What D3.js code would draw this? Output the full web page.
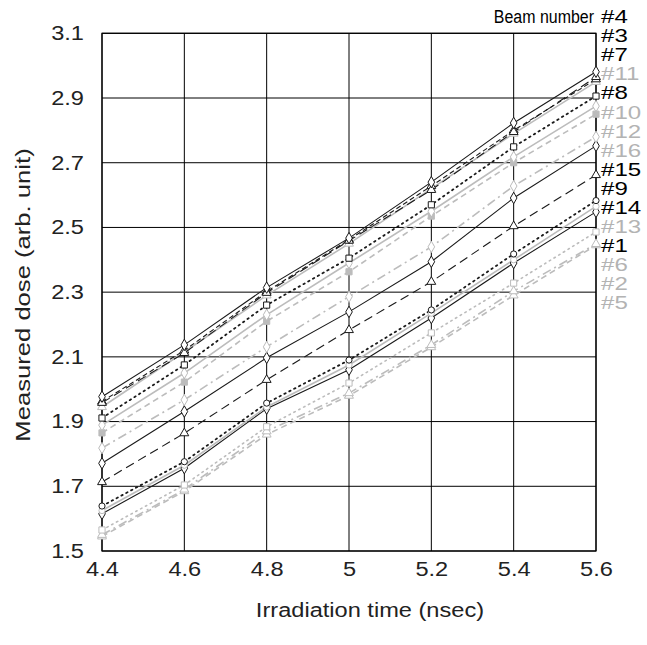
<!DOCTYPE html>
<html><head><meta charset="utf-8">
<script src="https://cdn.jsdelivr.net/npm/d3@7"></script>
<style>
body{margin:0;background:#fff;}
svg{display:block;font-family:"Liberation Sans",Arial,sans-serif;}
</style></head>
<body><svg id="c" width="647" height="645"></svg>
<script>
// ---- data ----
const times = [4.4, 4.6, 4.8, 5.0, 5.2, 5.4, 5.6];
const xTickLabels = ["4.4","4.6","4.8","5","5.2","5.4","5.6"];
const yTicks = [1.5,1.7,1.9,2.1,2.3,2.5,2.7,2.9,3.1];
const beams = ["#4","#3","#7","#11","#8","#10","#12","#16","#15","#9","#14","#13","#1","#6","#2","#5"];
const tone   = ["k","k","k","g","k","g","g","g","k","k","k","g","k","g","g","g"];
const marker = ["diamond","triangle","triangle","triangle","square","diamond","squareFill","diamond","diamond","triangle","circle","circle","diamond","square","triangle","triangle"];
const dash   = ["solid","long","short","solid","dot","solid","dash","dashdot","solid","long","dot","solid","solid","dot","dashdot","dash"];
const b4  = [1.977, 2.137, 2.314, 2.467, 2.640, 2.823, 2.981];
const b3  = [1.958, 2.112, 2.298, 2.459, 2.616, 2.795, 2.965];
const b7  = [1.962, 2.120, 2.302, 2.462, 2.628, 2.800, 2.958];
const b11 = [1.945, 2.115, 2.290, 2.450, 2.620, 2.790, 2.950];
const b8  = [1.911, 2.075, 2.260, 2.405, 2.570, 2.749, 2.906];
const b10 = [1.889, 2.050, 2.230, 2.390, 2.550, 2.718, 2.875];
const b12 = [1.865, 2.022, 2.210, 2.363, 2.535, 2.700, 2.850];
const b16 = [1.818, 1.967, 2.131, 2.286, 2.440, 2.628, 2.780];
const b15 = [1.771, 1.931, 2.097, 2.239, 2.394, 2.591, 2.752];
const b9  = [1.713, 1.864, 2.029, 2.183, 2.332, 2.504, 2.662];
const b14 = [1.639, 1.776, 1.957, 2.090, 2.245, 2.418, 2.583];
const b13 = [1.625, 1.765, 1.945, 2.075, 2.235, 2.400, 2.565];
const b1  = [1.615, 1.756, 1.940, 2.060, 2.220, 2.390, 2.548];
const b6  = [1.565, 1.704, 1.884, 2.019, 2.174, 2.328, 2.486];
const b2  = [1.550, 1.690, 1.870, 1.988, 2.137, 2.303, 2.449];
const b5  = [1.545, 1.685, 1.860, 1.980, 2.130, 2.290, 2.445];
const values = [b4,b3,b7,b11,b8,b10,b12,b16,b15,b9,b14,b13,b1,b6,b2,b5];

// ---- layout ----
const L = 102, R = 596, T = 33.3, B = 551;
const svg = d3.select("#c");
const x = d3.scaleLinear().domain([4.4, 5.6]).range([L, R]);
const y = d3.scaleLinear().domain([1.5, 3.1]).range([B, T]);
const colors = {k:"#1a1a1a", g:"#bcbcbc"};
const dashes = {solid:null, long:"9,5", short:"5,3", dot:"1.5,4", dash:"6,4", dashdot:"9,4,2,4"};
const STRETCH = 1.18;
function stretch(sel, f){
  sel.each(function(){
    const w = this.getComputedTextLength();
    d3.select(this).attr("textLength", w*f).attr("lengthAdjust","spacingAndGlyphs");
  });
}

// grid
const g = svg.append("g");
g.selectAll("line.h").data(yTicks).join("line")
  .attr("x1", L).attr("x2", R).attr("y1", d=>y(d)).attr("y2", d=>y(d))
  .attr("stroke","#000").attr("stroke-width",1);
g.selectAll("line.v").data(times).join("line")
  .attr("x1", d=>x(d)).attr("x2", d=>x(d)).attr("y1", T).attr("y2", B)
  .attr("stroke","#000").attr("stroke-width",1);
g.append("rect").attr("x",L).attr("y",T).attr("width",R-L).attr("height",B-T)
  .attr("fill","none").attr("stroke","#000").attr("stroke-width",1.2);

// axes labels via d3 axes
const ax = svg.append("g").attr("transform",`translate(0,${B})`)
  .call(d3.axisBottom(x).tickValues(times).tickFormat((d,i)=>xTickLabels[i]).tickSize(0).tickPadding(11));
ax.select(".domain").remove();
ax.selectAll("text").attr("font-size",20).attr("fill","#222").attr("font-family","Liberation Sans, Arial, sans-serif");
const ay = svg.append("g").attr("transform",`translate(${L},0)`)
  .call(d3.axisLeft(y).tickValues(yTicks).tickFormat(d3.format(".1f")).tickSize(0).tickPadding(18));
ay.select(".domain").remove();
ay.selectAll("text").attr("font-size",20).attr("fill","#222").attr("font-family","Liberation Sans, Arial, sans-serif");
stretch(ax.selectAll("text"), STRETCH);
stretch(ay.selectAll("text"), STRETCH);

// series
const line = d3.line().x((d,i)=>x(times[i])).y(d=>y(d));
const order = d3.range(beams.length).reverse();
const sg = svg.append("g");
order.forEach(i=>{
  const c = colors[tone[i]];
  sg.append("path").datum(values[i]).attr("d", line)
    .attr("fill","none").attr("stroke", c)
    .attr("stroke-width", tone[i]==="g" ? 1.6 : (dash[i]==="dot"?1.8:1.1))
    .attr("stroke-linecap", dash[i]==="dot" ? "round" : "butt")
    .attr("stroke-dasharray", dashes[dash[i]]);
});
const sym = {diamond:d3.symbolDiamond, triangle:d3.symbolTriangle, square:d3.symbolSquare, squareFill:d3.symbolSquare, circle:d3.symbolCircle};
const size = {diamond:38, triangle:34, square:38, squareFill:38, circle:30};
order.forEach(i=>{
  const c = colors[tone[i]];
  sg.selectAll(null).data(values[i]).join("path")
    .attr("transform",(d,j)=>`translate(${x(times[j])},${y(d)})`)
    .attr("d", d3.symbol().type(sym[marker[i]]).size(size[marker[i]]))
    .attr("fill", marker[i]==="squareFill" ? c : "#fff")
    .attr("stroke", c).attr("stroke-width",1);
});

// legend
const rowH = 19.08, row0 = 16.5;
const lg = svg.append("g");
lg.selectAll("text").data(beams).join("text")
  .attr("x", 601).attr("y",(d,i)=>row0 + i*rowH).attr("dy","0.36em")
  .attr("font-size",18.5).attr("fill",(d,i)=>tone[i]==="g"?"#b3b3b3":"#000")
  .text(d=>d);
stretch(lg.selectAll("text"), 1.3);
svg.append("text").attr("transform",`translate(594,${row0}) scale(0.84,1)`).attr("dy","0.36em")
  .attr("text-anchor","end").attr("font-size",19).attr("fill","#000").text("Beam number");

// axis titles
const xt = svg.append("text").attr("x",370).attr("y",610).attr("dy","0.36em")
  .attr("text-anchor","middle").attr("font-size",20).attr("fill","#222").text("Irradiation time (nsec)");
stretch(xt, STRETCH);
const yt = svg.append("text").attr("transform",`translate(22,295) rotate(-90)`).attr("dy","0.36em")
  .attr("text-anchor","middle").attr("font-size",21).attr("fill","#222").text("Measured dose (arb. unit)");
stretch(yt, 1.22);
</script></body></html>
